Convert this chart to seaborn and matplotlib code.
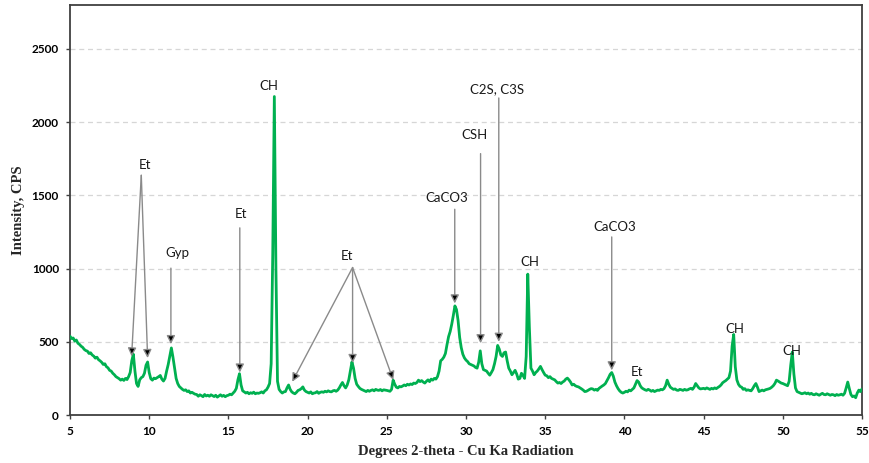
import numpy as np
import pandas as pd
import matplotlib
matplotlib.use("Agg")
import matplotlib.pyplot as plt
import seaborn as sns

# Diffractogram sampled every 0.1 degree 2-theta, starting at 5.0
two_theta_start = 5.0
two_theta_step = 0.1
intensity_cps = [
    538, 522, 526, 505, 512, 490, 482, 470, 462, 448,   # 5
    440, 436, 420, 425, 410, 402, 388, 395, 378, 370,   # 6
    360, 345, 350, 330, 322, 305, 300, 285, 275, 262,   # 7
    255, 248, 238, 245, 236, 250, 242, 262, 290, 370,   # 8
    415, 300, 215, 195, 240, 255, 262, 285, 340, 362,   # 9
    290, 248, 238, 252, 248, 255, 262, 270, 245, 232,   # 10
    250, 300, 345, 400, 458, 395, 320, 250, 215, 195,   # 11
    185, 175, 168, 172, 160, 165, 150, 155, 148, 142,   # 12
    140, 128, 138, 132, 125, 140, 130, 135, 128, 138,   # 13
    132, 126, 135, 122, 130, 138, 128, 134, 125, 132,   # 14
    135, 142, 138, 150, 162, 182, 240, 282, 205, 165,   # 15
    158, 150, 155, 145, 152, 148, 156, 145, 150, 148,   # 16
    152, 158, 150, 165, 172, 190, 215, 350, 1100, 2175,  # 17
    1000, 230, 175, 160, 150, 158, 160, 185, 205, 175,  # 18
    158, 150, 145, 155, 168, 172, 180, 192, 170, 160,   # 19
    155, 150, 158, 145, 150, 152, 160, 148, 155, 158,   # 20
    155, 162, 158, 165, 160, 158, 165, 168, 162, 170,   # 21
    185, 205, 222, 200, 185, 205, 240, 300, 362, 320,   # 22
    250, 210, 195, 182, 175, 170, 165, 160, 168, 162,   # 23
    168, 172, 165, 175, 170, 168, 174, 165, 172, 170,   # 24
    168, 165, 162, 175, 238, 210, 190, 185, 195, 192,   # 25
    198, 205, 200, 210, 205, 212, 208, 218, 215, 222,   # 26
    238, 228, 235, 225, 218, 230, 240, 228, 245, 238,   # 27
    250, 245, 262, 300, 370, 380, 395, 420, 480, 535,   # 28
    570, 620, 680, 745, 720, 645, 530, 460, 415, 390,   # 29
    375, 365, 350, 345, 340, 335, 325, 320, 360, 438,   # 30
    350, 310, 305, 300, 285, 272, 290, 310, 350, 400,   # 31
    475, 450, 410, 400, 425, 430, 370, 320, 300, 275,   # 32
    290, 305, 280, 245, 250, 285, 270, 250, 400, 962,   # 33
    600, 320, 300, 275, 290, 300, 315, 332, 310, 290,   # 34
    272, 268, 255, 262, 250, 245, 240, 228, 218, 222,   # 35
    215, 225, 232, 245, 252, 240, 225, 205, 210, 200,   # 36
    195, 192, 185, 178, 170, 160, 162, 168, 175, 180,   # 37
    178, 170, 175, 168, 182, 190, 198, 205, 215, 235,   # 38
    255, 278, 290, 265, 225, 200, 180, 165, 155, 150,   # 39
    155, 162, 158, 170, 165, 175, 185, 210, 235, 225,   # 40
    200, 185, 178, 172, 168, 175, 170, 162, 168, 160,   # 41
    165, 170, 168, 175, 172, 180, 200, 238, 210, 190,   # 42
    182, 175, 178, 170, 168, 175, 172, 168, 175, 170,   # 43
    172, 178, 182, 175, 190, 215, 200, 185, 178, 180,   # 44
    182, 178, 185, 180, 175, 182, 178, 185, 180, 188,   # 45
    195, 205, 220, 228, 235, 245, 255, 300, 470, 550,   # 46
    330, 240, 210, 195, 190, 175, 180, 168, 172, 168,   # 47
    165, 180, 200, 215, 190, 160, 165, 170, 165, 172,   # 48
    175, 178, 182, 190, 200, 215, 238, 232, 225, 218,   # 49
    215, 210, 205, 200, 230, 340, 430, 280, 185, 160,   # 50
    155, 150, 145, 148, 152, 145, 150, 142, 148, 140,   # 51
    138, 145, 140, 135, 142, 148, 140, 138, 145, 140,   # 52
    135, 140, 138, 132, 140, 135, 138, 142, 135, 148,   # 53
    185, 225, 180, 140, 125, 130, 118, 150, 170, 160,   # 54
    178,                                                # 55
]
two_theta = np.round(two_theta_start + two_theta_step * np.arange(len(intensity_cps)), 1)

x_ticks = [5, 10, 15, 20, 25, 30, 35, 40, 45, 50, 55]
y_ticks = [0, 500, 1000, 1500, 2000, 2500]

# Phase identifications: label text, label anchor, arrow start, arrow tips
phase_labels = ["Et", "Gyp", "Et", "CH", "Et", "CaCO3", "CSH", "C2S, C3S",
                "CH", "CaCO3", "Et", "CH", "CH"]
label_theta = [9.75, 11.76, 15.78, 17.56, 22.48, 28.76, 30.55, 31.97,
               34.04, 39.42, 40.82, 46.94, 50.58]
label_cps = [1705, 1103, 1376, 2244, 1085, 1485, 1910, 2224,
             1042, 1282, 295, 585, 439]
arrow_tail = [(9.50, 1637), (11.37, 1003), (15.72, 1278), None, (22.84, 1007),
              (29.29, 1405), (30.92, 1785), (32.07, 2165), None, (39.20, 1216),
              None, None, None]
arrow_tips = [[(8.89, 400), (9.90, 389)], [(11.37, 484)], [(15.72, 290)], [],
              [(19.03, 227), (22.84, 355), (25.41, 239)], [(29.29, 762)],
              [(30.92, 490)], [(32.07, 500)], [], [(39.20, 305)], [], [], []]

df = pd.DataFrame({"two_theta": two_theta, "cps": intensity_cps})

sns.set_theme(style="white")
plt.rcParams["font.family"] = ["Lato", "DejaVu Sans"]

fig = plt.figure(figsize=(8.69, 4.63), dpi=100)
ax = fig.add_axes([70 / 869, 48 / 463, 792 / 869, 410 / 463])

sns.lineplot(data=df, x="two_theta", y="cps", ax=ax, color="#00B050",
             linewidth=2.0, estimator=None, sort=False, zorder=3)

ax.set_xlim(5, 55)
ax.set_ylim(0, 2800)
ax.set_xticks(x_ticks)
ax.set_yticks(y_ticks)
ax.set_xticklabels([str(t) for t in x_ticks], fontweight="bold", fontsize=8.5)
ax.set_yticklabels([str(t) for t in y_ticks], fontweight="bold", fontsize=8.5)
ax.tick_params(axis="both", which="major", direction="out", length=3,
               width=1, color="#404040", pad=5, labelcolor="black")
ax.tick_params(axis="x", bottom=True)
ax.tick_params(axis="y", left=True)

for y in y_ticks[1:]:
    ax.axhline(y, color="#d6d6d6", linestyle=(0, (4, 3)), linewidth=0.9, zorder=1)

for side in ["left", "right", "top", "bottom"]:
    ax.spines[side].set_visible(True)
    ax.spines[side].set_color("#404040")
    ax.spines[side].set_linewidth(1.3)

serif = {"family": ["Liberation Serif", "DejaVu Serif"], "weight": "bold", "size": 10.5}
ax.set_xlabel("Degrees 2-theta - Cu Ka Radiation", fontdict=serif)
ax.set_ylabel("Intensity, CPS", fontdict=serif)
ax.xaxis.set_label_coords(0.5, -0.073)
ax.yaxis.set_label_coords(-0.057, 0.5)

for text, tx, ty, tail, tips in zip(phase_labels, label_theta, label_cps,
                                    arrow_tail, arrow_tips):
    ax.text(tx, ty, text, ha="center", va="center", fontsize=9.5,
            color="#1a1a1a", zorder=5)
    for tip in tips:
        ax.annotate("", xy=tip, xytext=tail, xycoords="data", textcoords="data",
                    arrowprops=dict(arrowstyle="-|>,head_length=0.5,head_width=0.25",
                                    fc="black", ec="#8a8a8a", lw=1.0,
                                    shrinkA=0, shrinkB=0, mutation_scale=10),
                    zorder=4)

fig.savefig("out.png", dpi=100)
